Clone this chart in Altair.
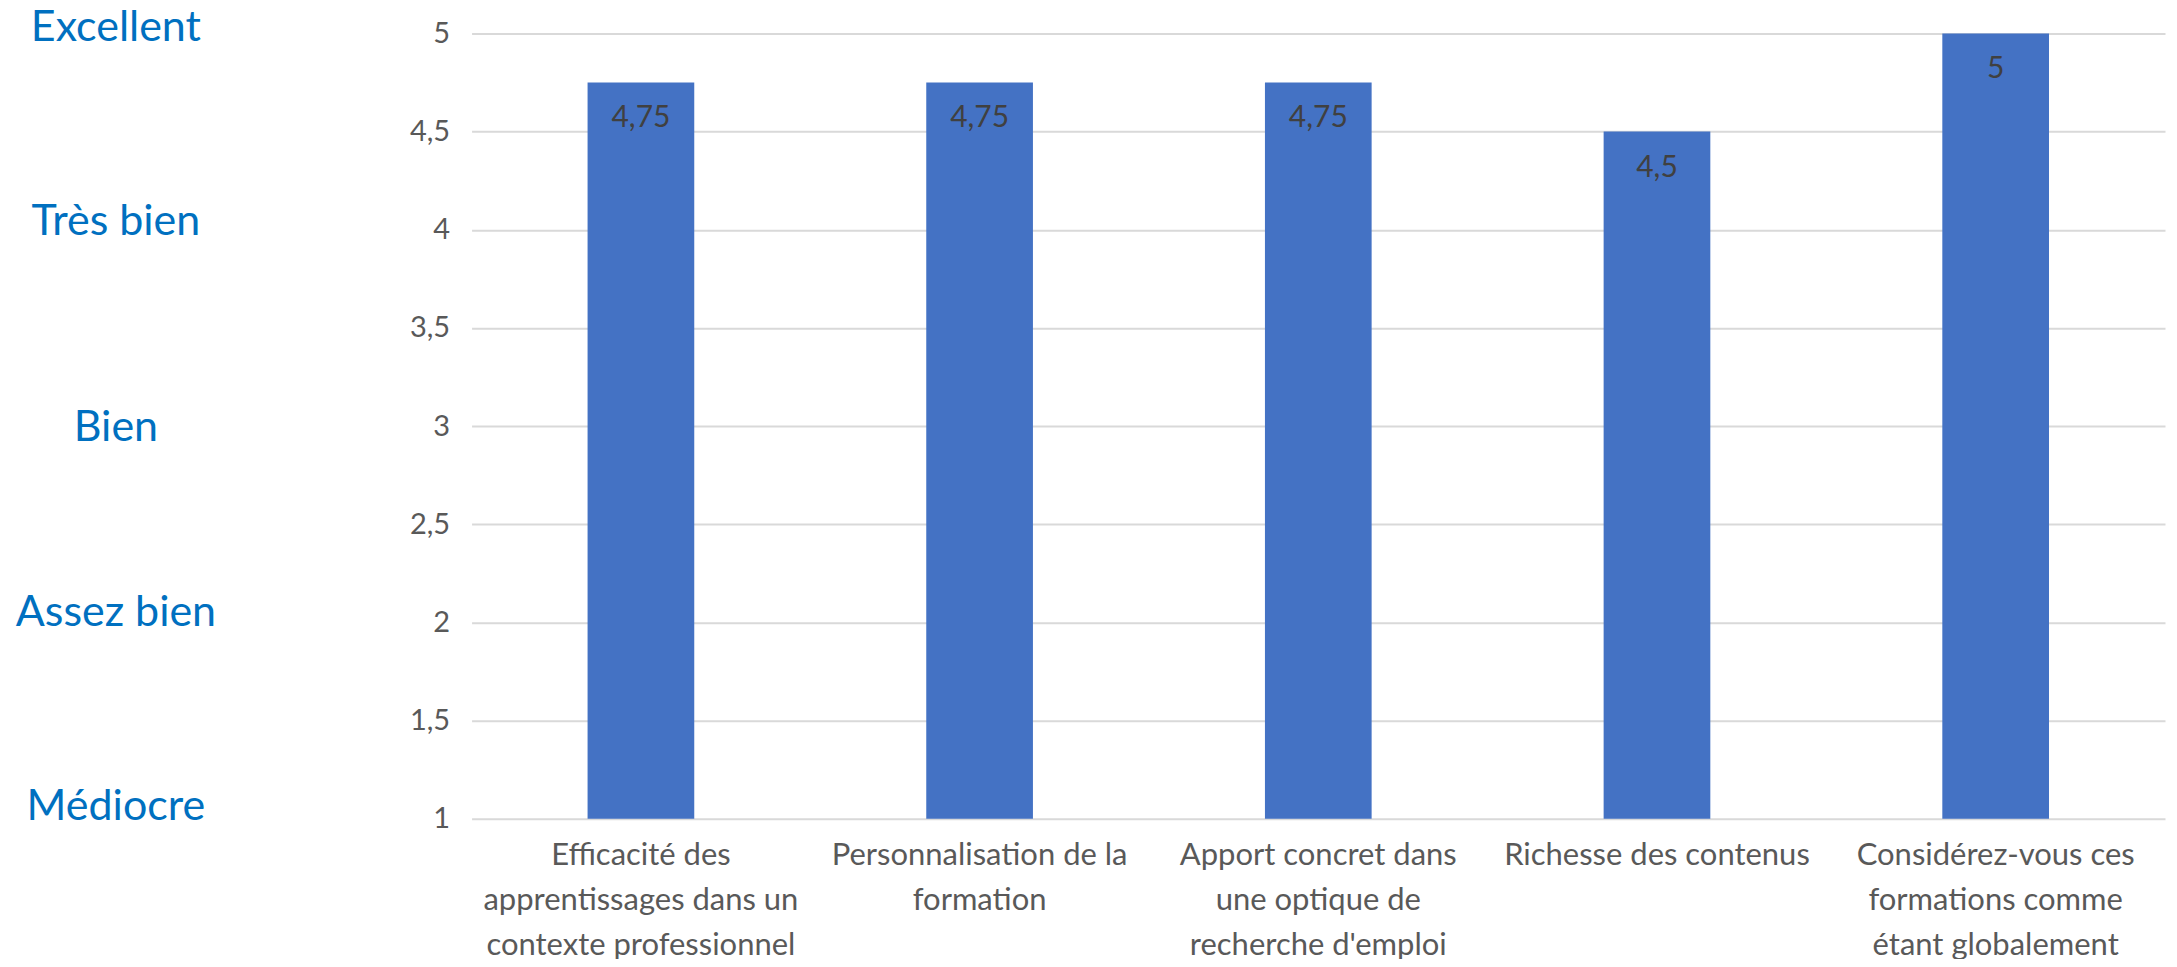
import altair as alt
import pandas as pd

categories = [
    "Efficacité des|apprentissages dans un|contexte professionnel",
    "Personnalisation de la|formation",
    "Apport concret dans|une optique de|recherche d'emploi",
    "Richesse des contenus",
    "Considérez-vous ces|formations comme|étant globalement",
]
scores = [4.75, 4.75, 4.75, 4.5, 5]

rating_labels = ["Excellent", "Très bien", "Bien", "Assez bien", "Médiocre"]
rating_values = [5.04, 4.05, 3.0, 2.06, 1.07]

y_ticks = [1, 1.5, 2, 2.5, 3, 3.5, 4, 4.5, 5]

FONT = "Lato"

df = pd.DataFrame({"cat": categories, "score": scores})
df_r = pd.DataFrame({"label": rating_labels, "v": rating_values})

x_enc = alt.X(
    "cat:N",
    sort=categories,
    title=None,
    scale=alt.Scale(paddingInner=0.685, paddingOuter=0.3425),
    axis=alt.Axis(
        labelExpr="split(datum.label, '|')",
        labelAngle=0,
        labelFont=FONT,
        labelFontSize=31,
        labelColor="#595959",
        labelLineHeight=45,
        labelPadding=22,
        labelBaseline="top",
        ticks=False,
        domain=False,
        labelLimit=400,
    ),
)

y_enc = alt.Y(
    "score:Q",
    title=None,
    scale=alt.Scale(domain=[1, 5], zero=False, nice=False),
    axis=alt.Axis(
        values=y_ticks,
        labelExpr="replace(toString(datum.value), '.', ',')",
        labelFont=FONT,
        labelFontSize=29,
        labelColor="#595959",
        labelPadding=22,
        ticks=False,
        domain=False,
        gridColor="#D9D9D9",
        gridWidth=2,
    ),
)

bars = alt.Chart(df).mark_bar(color="#4472C4").encode(x=x_enc, y=y_enc, y2=alt.datum(1))

text = (
    alt.Chart(df)
    .transform_calculate(txt="replace(toString(datum.score), '.', ',')")
    .mark_text(baseline="top", dy=21, font=FONT, fontSize=30, color="#404040")
    .encode(x=alt.X("cat:N", sort=categories), y="score:Q", text="txt:N")
)

ratings = (
    alt.Chart(df_r)
    .mark_text(align="center", baseline="middle", dy=2, font=FONT, fontSize=43, color="#0070C0")
    .encode(x=alt.value(-356), y=alt.Y("v:Q"), text="label:N")
)

chart = (
    alt.layer(bars, text, ratings)
    .properties(
        width=1695,
        height=786,
        autosize=alt.AutoSizeParams(type="none"),
        padding={"left": 464, "top": 25, "right": 4, "bottom": 140},
    )
    .configure_view(stroke=None)
)

chart.save("out.html", embed_options={"renderer": "svg", "actions": False})
